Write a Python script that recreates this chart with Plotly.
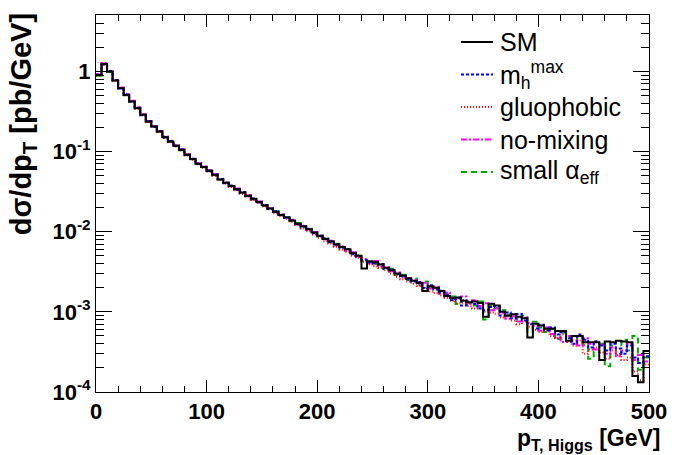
import plotly.graph_objects as go

# ---- data: p_T(Higgs) bins of 5 GeV from 0 to 500 ----
bin_edges = list(range(0, 505, 5))

sm = [0.904, 1.24, 0.995, 0.769, 0.617, 0.509, 0.421, 0.348, 0.287, 0.237,
      0.206, 0.178, 0.151, 0.134, 0.118, 0.105, 0.0912, 0.0805, 0.0705, 0.0641,
      0.0575, 0.0513, 0.0447, 0.0407, 0.0372, 0.0339, 0.0309, 0.0282, 0.0257, 0.0234,
      0.0214, 0.0195, 0.0178, 0.0162, 0.0151, 0.0138, 0.0126, 0.0117, 0.0107, 0.00977,
      0.00891, 0.00813, 0.00759, 0.00692, 0.00646, 0.00603, 0.00537, 0.00501, 0.00347, 0.00427,
      0.00417, 0.00389, 0.00355, 0.00331, 0.00302, 0.00282, 0.00263, 0.00245, 0.00229, 0.00182,
      0.00209, 0.00200, 0.00182, 0.00158, 0.00148, 0.00151, 0.00138, 0.00132, 0.00135, 0.00129,
      0.000871, 0.00126, 0.00120, 0.00100, 0.000891, 0.000933, 0.000871, 0.000832, 0.000479, 0.000708,
      0.000676, 0.000617, 0.000617, 0.000575, 0.000575, 0.000437, 0.000501, 0.000501, 0.000417, 0.000417,
      0.000417, 0.000251, 0.000427, 0.000417, 0.000437, 0.000427, 0.000417, 0.000158, 0.000132, 0.000324]

mhmax = [0.91, 1.22, 1.01, 0.775, 0.612, 0.514, 0.418, 0.351, 0.284, 0.240,
         0.204, 0.180, 0.150, 0.135, 0.117, 0.106, 0.0905, 0.0812, 0.0700, 0.0645,
         0.0570, 0.0518, 0.0450, 0.0402, 0.0376, 0.0335, 0.0312, 0.0279, 0.0260, 0.0231,
         0.0216, 0.0192, 0.0180, 0.0160, 0.0149, 0.0140, 0.0124, 0.0115, 0.0109, 0.00960,
         0.00880, 0.00825, 0.00745, 0.00700, 0.00630, 0.00610, 0.00525, 0.00495, 0.00440, 0.00415,
         0.00405, 0.00395, 0.00345, 0.00335, 0.00295, 0.00285, 0.00255, 0.00240, 0.00235, 0.00200,
         0.00215, 0.00190, 0.00175, 0.00165, 0.00140, 0.00150, 0.00120, 0.00135, 0.00125, 0.00110,
         0.00105, 0.00115, 0.00118, 0.000900, 0.000980, 0.000830, 0.000940, 0.000780, 0.000700, 0.000620,
         0.000690, 0.000590, 0.000640, 0.000520, 0.000560, 0.000470, 0.000400, 0.000520, 0.000450, 0.000360,
         0.000430, 0.000380, 0.000330, 0.000400, 0.000350, 0.000300, 0.000380, 0.000270, 0.000230, 0.000280]

gluophobic = [0.89, 1.20, 0.99, 0.760, 0.620, 0.505, 0.425, 0.342, 0.289, 0.233,
              0.203, 0.176, 0.149, 0.131, 0.116, 0.103, 0.0895, 0.0790, 0.0695, 0.0628,
              0.0562, 0.0500, 0.0440, 0.0398, 0.0362, 0.0330, 0.0298, 0.0275, 0.0248, 0.0228,
              0.0206, 0.0190, 0.0170, 0.0156, 0.0145, 0.0131, 0.0121, 0.0110, 0.0101, 0.00920,
              0.00840, 0.00760, 0.00715, 0.00650, 0.00600, 0.00555, 0.00500, 0.00470, 0.00420, 0.00390,
              0.00370, 0.00355, 0.00330, 0.00300, 0.00275, 0.00255, 0.00240, 0.00225, 0.00210, 0.00195,
              0.00180, 0.00172, 0.00160, 0.00150, 0.00138, 0.00128, 0.00130, 0.00118, 0.00110, 0.00112,
              0.00100, 0.00098, 0.000950, 0.000850, 0.000900, 0.000780, 0.000700, 0.000760, 0.000650, 0.000600,
              0.000560, 0.000580, 0.000500, 0.000470, 0.000520, 0.000420, 0.000380, 0.000440, 0.000300, 0.000340,
              0.000360, 0.000310, 0.000260, 0.000330, 0.000290, 0.000250, 0.000270, 0.000180, 0.000140, 0.000220]

nomixing = [0.92, 1.27, 1.02, 0.780, 0.630, 0.520, 0.430, 0.355, 0.293, 0.241,
            0.209, 0.181, 0.154, 0.136, 0.120, 0.107, 0.0925, 0.0815, 0.0718, 0.0650,
            0.0585, 0.0520, 0.0455, 0.0415, 0.0368, 0.0345, 0.0305, 0.0288, 0.0255, 0.0238,
            0.0212, 0.0198, 0.0176, 0.0165, 0.0148, 0.0141, 0.0125, 0.0119, 0.0105, 0.00990,
            0.00900, 0.00800, 0.00770, 0.00680, 0.00660, 0.00580, 0.00555, 0.00480, 0.00455, 0.00400,
            0.00430, 0.00370, 0.00360, 0.00320, 0.00310, 0.00270, 0.00265, 0.00250, 0.00220, 0.00230,
            0.00195, 0.00205, 0.00170, 0.00175, 0.00150, 0.00145, 0.00155, 0.00125, 0.00140, 0.00118,
            0.00128, 0.00105, 0.00112, 0.000960, 0.000820, 0.000880, 0.000760, 0.000850, 0.000720, 0.000660,
            0.000580, 0.000640, 0.000530, 0.000480, 0.000420, 0.000500, 0.000440, 0.000380, 0.000470, 0.000400,
            0.000340, 0.000390, 0.000300, 0.000360, 0.000280, 0.000330, 0.000400, 0.000250, 0.000290, 0.000240]

small_aeff = [0.88, 1.23, 0.98, 0.772, 0.615, 0.505, 0.423, 0.345, 0.290, 0.235,
              0.207, 0.177, 0.152, 0.133, 0.119, 0.104, 0.0918, 0.0800, 0.0710, 0.0638,
              0.0580, 0.0508, 0.0452, 0.0410, 0.0370, 0.0342, 0.0306, 0.0284, 0.0252, 0.0236,
              0.0210, 0.0196, 0.0181, 0.0163, 0.0150, 0.0136, 0.0128, 0.0116, 0.0106, 0.00985,
              0.00870, 0.00830, 0.00740, 0.00710, 0.00640, 0.00590, 0.00545, 0.00510, 0.00430, 0.00420,
              0.00395, 0.00400, 0.00340, 0.00345, 0.00290, 0.00290, 0.00250, 0.00260, 0.00215, 0.00240,
              0.00200, 0.00190, 0.00185, 0.00160, 0.00155, 0.00125, 0.00140, 0.00130, 0.00120, 0.00135,
              0.00080, 0.00120, 0.00110, 0.00105, 0.000920, 0.000860, 0.000800, 0.000900, 0.000560, 0.000750,
              0.000640, 0.000560, 0.000620, 0.000460, 0.000550, 0.000500, 0.000480, 0.000420, 0.000390, 0.000260,
              0.000320, 0.000400, 0.000210, 0.000380, 0.000300, 0.000450, 0.000330, 0.000500, 0.000190, 0.000270]

series_names = ["SM", "m<sub>h</sub><sup>max</sup>", "gluophobic", "no-mixing", "small α<sub>eff</sub>"]
series_values = [sm, mhmax, gluophobic, nomixing, small_aeff]
series_colors = ["#000000", "#0000ff", "#ff0000", "#ff00ff", "#00a800"]
series_dash = ["solid", "3px,2px", "1px,2px", "6px,2px,2px,2px", "6px,4px"]

x_tickvals = [0, 100, 200, 300, 400, 500]
y_tickvals = [1e-4, 1e-3, 1e-2, 1e-1, 1]
y_ticktext = ["10<sup>-4</sup>", "10<sup>-3</sup>", "10<sup>-2</sup>", "10<sup>-1</sup>", "1"]

# minor tick positions on the log axis (2..9 of each decade)
y_minor = [m * 10.0 ** e for e in range(-4, 1) for m in range(2, 10) if m * 10.0 ** e < 5.1]

FONT = "Liberation Sans, Arial, Helvetica, sans-serif"

fig = go.Figure()
draw_order = [4, 3, 2, 1, 0]
for k in draw_order:
    vals = series_values[k]
    fig.add_trace(go.Scatter(
        x=bin_edges,
        y=vals + [vals[-1]],
        mode="lines",
        line=dict(shape="hv", color=series_colors[k], width=2, dash=series_dash[k]),
        name=series_names[k],
        showlegend=False,
    ))

# ---- legend (ROOT TLegend style, no frame) ----
PLOT_H = 455 - 15 - 63
leg_sample_x0, leg_sample_x1, leg_text_x = 0.660, 0.718, 0.729   # paper x
leg_row0_px, leg_row_step_px = 42.0, 32.5                          # px from top of page
for k, name in enumerate(series_names):
    ypx = leg_row0_px - 15 + k * leg_row_step_px
    yp = 1.0 - ypx / PLOT_H
    fig.add_shape(type="line", xref="paper", yref="paper",
                  x0=leg_sample_x0, x1=leg_sample_x1, y0=yp, y1=yp,
                  line=dict(color=series_colors[k], width=2, dash=series_dash[k]))
    fig.add_annotation(text=name, xref="paper", yref="paper",
                       x=leg_text_x, y=yp, xanchor="left", yanchor="middle",
                       showarrow=False, borderpad=0,
                       font=dict(family=FONT, size=25, color="black"))

axis_common = dict(
    showline=True, linecolor="black", linewidth=1, mirror="allticks",
    ticks="inside", tickcolor="black", showgrid=False, zeroline=False,
    tickfont=dict(family=FONT, size=22, color="black", weight="bold"),
)

fig.update_xaxes(
    range=[0, 500], tickvals=x_tickvals, ticklen=12, tickwidth=1,
    minor=dict(ticks="inside", dtick=20, ticklen=6, tickcolor="black", showgrid=False),
    **axis_common,
)
fig.update_yaxes(
    type="log", range=[-4, 0.704], tickvals=y_tickvals, ticktext=y_ticktext,
    ticklen=16, tickwidth=1,
    minor=dict(ticks="inside", tickmode="array", tickvals=y_minor, ticklen=8,
               tickcolor="black", showgrid=False),
    **axis_common,
)

fig.add_annotation(
    text="dσ/dp<sub>T</sub> [pb/GeV]", textangle=-90,
    xref="paper", yref="paper", x=-0.132, y=1.01, xanchor="center", yanchor="top",
    showarrow=False, font=dict(family=FONT, size=29, color="black", weight="bold"),
)
fig.add_annotation(
    text="p<sub>T, Higgs</sub> [GeV]",
    xref="paper", yref="paper", x=1.0, y=-0.082, xanchor="right", yanchor="top",
    xshift=14, showarrow=False,
    font=dict(family=FONT, size=23, color="black", weight="bold"),
)

fig.update_layout(
    width=679, height=455,
    margin=dict(l=96, r=20, t=15, b=63),
    paper_bgcolor="white", plot_bgcolor="white",
    showlegend=False,
)

fig.write_html("out.html")
